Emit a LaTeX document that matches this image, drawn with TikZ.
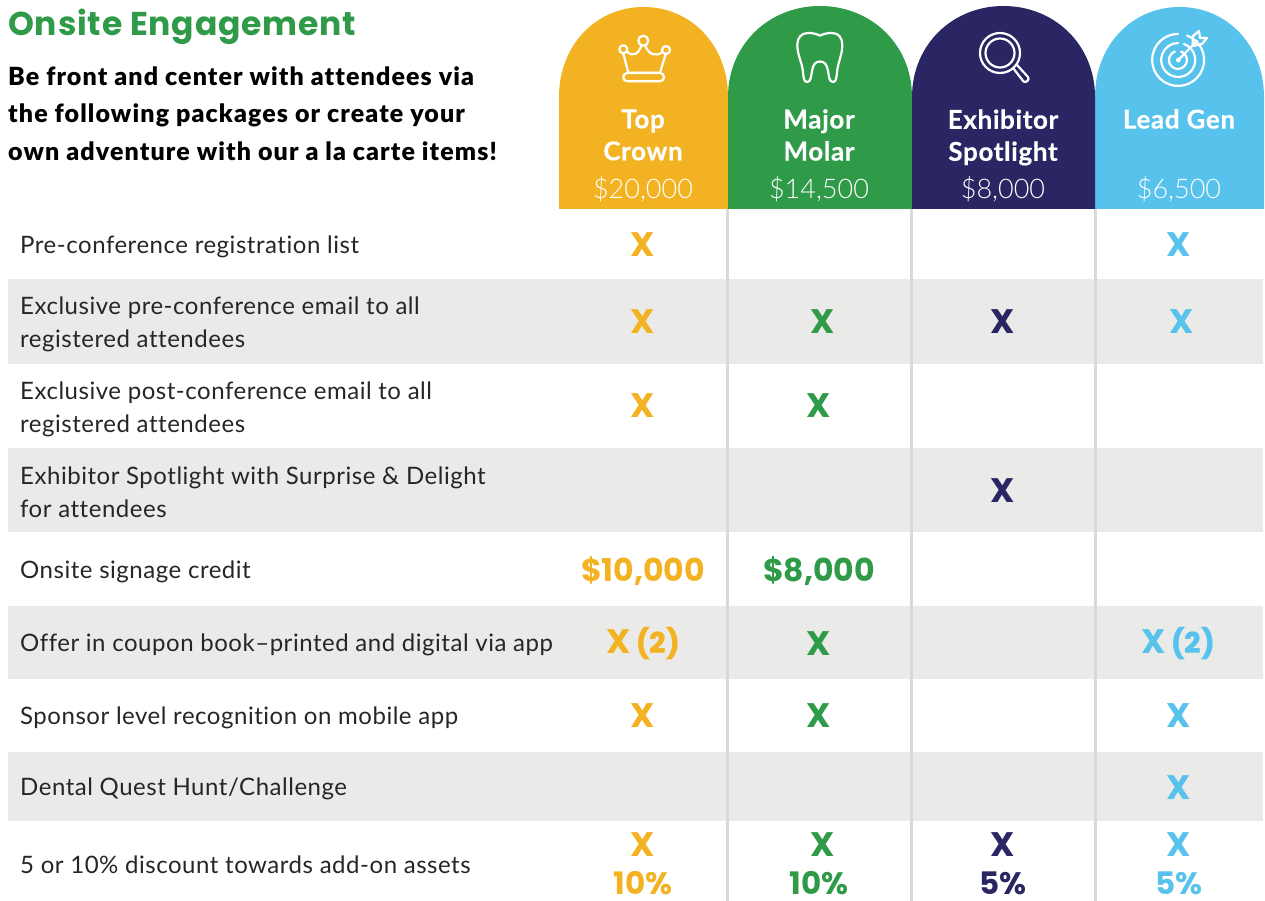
\documentclass[tikz,border=0pt]{standalone}
\usepackage{fontspec}
\setmainfont[LetterSpace=2.2,Ligatures=NoCommon]{Lato}
\newfontfamily\titlefont[LetterSpace=2.5]{Poppins}
\newfontfamily\introfont[LetterSpace=4.5,Ligatures=NoCommon]{Lato Black}
\newfontfamily\blackfont{Poppins}
\newfontfamily\medfont{Poppins Medium}
\newfontfamily\headfont[LetterSpace=2.5,FakeBold=0.4]{Lato Bold}
\newfontfamily\lightfont{Lato Light}
\definecolor{cyellow}{HTML}{F2B222}
\definecolor{cgreen}{HTML}{2F9A48}
\definecolor{cnavy}{HTML}{292663}
\definecolor{cblue}{HTML}{57C2EC}
\definecolor{crow}{HTML}{EAEBE8}
\definecolor{crule}{HTML}{D9D9D9}
\tikzset{
  rowband/.style={fill=crow,draw=none},
  rowlabel/.style={anchor=west,align=left,font=\fontsize{24}{33}\selectfont,text=black!85,inner sep=0pt},
  markx/.style={anchor=center,inner sep=0pt,font=\blackfont\bfseries\fontsize{34}{34}\selectfont},
  markval/.style={anchor=center,inner sep=0pt,font=\blackfont\bfseries\fontsize{31.5}{32}\selectfont},
  markpct/.style={anchor=center,inner sep=0pt,font=\blackfont\bfseries\fontsize{31}{31}\selectfont},
  headname/.style={anchor=center,align=center,inner sep=0pt,text=white,font=\headfont\fontsize{26}{32}\selectfont},
  headprice/.style={anchor=center,inner sep=0pt,text=white,font=\lightfont\fontsize{27}{27}\selectfont},
  icon/.style={draw=white,line width=2.2pt,line join=round,line cap=round},
  vrule/.style={draw=crule,line width=3pt},
}
\newcommand{\archhead}[4]{%
  \fill[#4] (#1,-209) -- (#1,-97) .. controls (#1,-45) and ({#1+(#2-#1)*0.22},-#3) .. ({(#1+#2)/2},-#3) .. controls ({#2-(#2-#1)*0.22},-#3) and (#2,-45) .. (#2,-97) -- (#2,-209) -- cycle;
}
\begin{document}
\begin{tikzpicture}[x=1pt,y=1pt]
\useasboundingbox (0,0) rectangle (1265,-901);
\fill[white] (0,0) rectangle (1265,-901);
% bands
\fill[rowband] (8,-279) rectangle (1263,-364);
\fill[rowband] (8,-448) rectangle (1263,-532);
\fill[rowband] (8,-606) rectangle (1263,-679);
\fill[rowband] (8,-752) rectangle (1263,-821);
% rules
\coordinate (r1t) at (727.5,-205); \coordinate (r1b) at (727.5,-901);
\coordinate (r2t) at (911.5,-205); \coordinate (r2b) at (911.5,-901);
\coordinate (r3t) at (1095,-205); \coordinate (r3b) at (1095,-901);
\draw[vrule] (r1t) -- (r1b);
\draw[vrule] (r2t) -- (r2b);
\draw[vrule] (r3t) -- (r3b);
% headers
\archhead{559}{728}{7}{cyellow}
\archhead{1095}{1264}{7}{cblue}
\archhead{728}{912}{6}{cgreen}
\archhead{912}{1095}{6}{cnavy}
% title
\node[anchor=west,inner sep=0pt,text=cgreen,font=\titlefont\bfseries\fontsize{33}{33}\selectfont] (title) at (8,-26.5) {Onsite Engagement};
\node[anchor=north west,align=left,inner sep=0pt,font=\introfont\fontsize{25}{37.5}\selectfont] (intro) at (8,-66.5) {Be front and center with attendees via\\the following packages or create your\\own adventure with our a la carte items!};
% header text
\node[headname] (h1) at (643,-135) {Top\\Crown};
\node[headname] (h2) at (819,-135) {Major\\Molar};
\node[headname] (h3) at (1003,-137.5) {Exhibitor\\Spotlight};
\node[headname] (h4) at (1179,-119) {Lead Gen};
\node[headprice] (p1) at (643,-189.5) {\$20,000};
\node[headprice] (p2) at (819,-189.5) {\$14,500};
\node[headprice] (p3) at (1003,-189.5) {\$8,000};
\node[headprice] (p4) at (1179,-189.5) {\$6,500};
% icons
\begin{scope}[icon]
\draw (643.3,-40.7) circle (5);
\draw (623.3,-49.3) circle (4);
\draw (666,-50) circle (4);
\draw (623.3,-53.5) -- (628.3,-72.7) -- (660,-72.7) -- (665.7,-54);
\draw[rounded corners=4pt] (623.3,-73) rectangle (664,-81.3);
\draw (627,-51.5) .. controls (632,-57) and (638,-55) .. (641.5,-45.5);
\draw (662.5,-52) .. controls (656,-57) and (649,-55) .. (645,-45.5);
\draw (820,-35.7) .. controls (816,-33.5) and (812,-33) .. (808,-33) .. controls (801,-33) and (797.3,-38) .. (797.3,-45) .. controls (797.3,-55) and (802,-62) .. (803,-72) .. controls (803.5,-78) and (804,-82) .. (807,-82) .. controls (811,-82) and (811,-76) .. (812,-71) .. controls (813,-65) and (815,-61.5) .. (820,-61.5) .. controls (825,-61.5) and (827,-65) .. (828,-71) .. controls (829,-76) and (829,-82) .. (833,-82) .. controls (836,-82) and (836.5,-78) .. (837,-72) .. controls (838,-62) and (842.3,-55) .. (842.3,-45) .. controls (842.3,-38) and (839,-33) .. (832,-33) .. controls (828,-33) and (824,-33.5) .. (820,-35.7);
\draw (1000,-53) circle (20);
\draw (1000,-53) circle (14.5);
\draw (1013,-68) -- (1023.5,-81.5) .. controls (1026,-83.5) and (1030,-79.5) .. (1028,-77) -- (1017,-65);
\draw (1187,-35.5) arc[start angle=70,end angle=-270,radius=26];
\draw (1184,-44) arc[start angle=70,end angle=-270,radius=17];
\draw (1181,-51.5) arc[start angle=70,end angle=-250,radius=9];
\draw[fill=white] (1178.3,-60) circle (1.5);
\draw (1178.3,-60) -- (1197,-41);
\draw (1192.5,-46) -- (1193,-36) -- (1199,-31) -- (1200,-38) -- (1207,-38) -- (1202,-44) -- (1192.5,-46);
\end{scope}
% row labels
\node[rowlabel] (l1) at (20,-247) {Pre-conference registration list};
\node[rowlabel] (l2) at (20,-324) {Exclusive pre-conference email to all\\registered attendees};
\node[rowlabel] (l3) at (20,-409) {Exclusive post-conference email to all\\registered attendees};
\node[rowlabel] (l4) at (20,-492.5) {Exhibitor Spotlight with Surprise \& Delight\\for attendees};
\node[rowlabel] (l5) at (20,-572) {Onsite signage credit};
\node[rowlabel] (l6) at (20,-645) {Offer in coupon book--printed and digital via app};
\node[rowlabel] (l7) at (20,-718) {Sponsor level recognition on mobile app};
\node[rowlabel] (l8) at (20,-789) {Dental Quest Hunt/Challenge};
\node[rowlabel] (l9) at (20,-865) {5 or 10\% discount towards add-on assets};
% marks
\node[markx,text=cyellow] (m11) at (643,-245) {X};
\node[markx,text=cblue] (m14) at (1179,-245) {X};
\node[markx,text=cyellow] (m21) at (643,-322) {X};
\node[markx,text=cgreen] (m22) at (823,-322) {X};
\node[markx,text=cnavy] (m23) at (1003,-322) {X};
\node[markx,text=cblue] (m24) at (1182,-322) {X};
\node[markx,text=cyellow] (m31) at (643,-406) {X};
\node[markx,text=cgreen] (m32) at (819,-406) {X};
\node[markx,text=cnavy] (m43) at (1003,-491) {X};
\node[markval,text=cyellow] (m51) at (643,-571) {\$10,000};
\node[markval,text=cgreen] (m52) at (819,-571) {\$8,000};
\node[markx,text=cyellow] (m61) at (643,-644) {X\,{\medfont\fontsize{29}{29}\selectfont(2)}};
\node[markx,text=cgreen] (m62) at (819,-644) {X};
\node[markx,text=cblue] (m64) at (1178,-644) {X\,{\medfont\fontsize{29}{29}\selectfont(2)}};
\node[markx,text=cyellow] (m71) at (643,-716) {X};
\node[markx,text=cgreen] (m72) at (819,-716) {X};
\node[markx,text=cblue] (m74) at (1179,-716) {X};
\node[markx,text=cblue] (m84) at (1179,-788) {X};
\node[markx,text=cyellow] (m91) at (643,-845) {X};
\node[markx,text=cgreen] (m92) at (823,-845) {X};
\node[markx,text=cnavy] (m93) at (1003,-845) {X};
\node[markx,text=cblue] (m94) at (1179,-845) {X};
\node[markpct,text=cyellow] (v91) at (643,-883) {10\%};
\node[markpct,text=cgreen] (v92) at (819,-883) {10\%};
\node[markpct,text=cnavy] (v93) at (1003,-883) {5\%};
\node[markpct,text=cblue] (v94) at (1179,-883) {5\%};
\end{tikzpicture}
\end{document}
